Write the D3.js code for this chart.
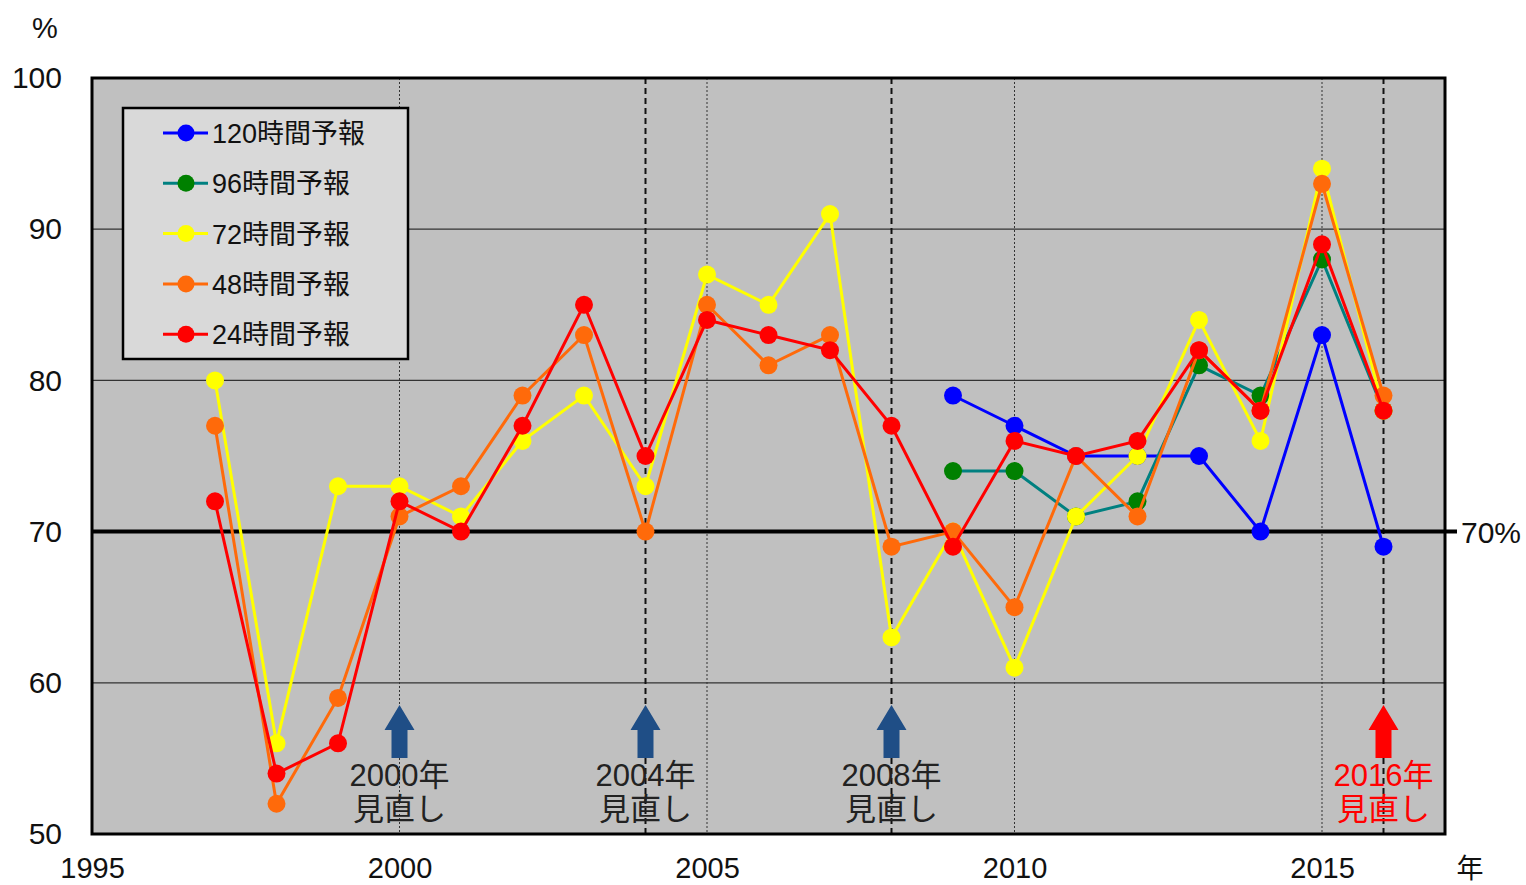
<!DOCTYPE html>
<html>
<head>
<meta charset="utf-8">
<script src="https://cdn.jsdelivr.net/npm/d3@7"></script>
<style>
  html, body { margin: 0; padding: 0; background: #fff; }
  svg { display: block; }
  text { font-family: "Liberation Sans", Arial, "Noto Sans CJK JP", sans-serif; }
</style>
</head>
<body>
<svg id="chart" width="1526" height="885"></svg>
<script>
// Forecast verification rate (%) by year, per forecast lead time
const years = [1997, 1998, 1999, 2000, 2001, 2002, 2003, 2004, 2005, 2006, 2007, 2008, 2009, 2010, 2011, 2012, 2013, 2014, 2015, 2016];
const yearsLong = [2009, 2010, 2011, 2012, 2013, 2014, 2015, 2016];

const h120 = [79, 77, 75, 75, 75, 70, 83, 69];
const h96  = [74, 74, 71, 72, 81, 79, 88, 78];
const h72  = [80, 56, 73, 73, 71, 76, 79, 73, 87, 85, 91, 63, 70, 61, 71, 75, 84, 76, 94, 78];
const h48  = [77, 52, 59, 71, 73, 79, 83, 70, 85, 81, 83, 69, 70, 65, 75, 71, 82, 78, 93, 79];
const h24  = [72, 54, 56, 72, 70, 77, 85, 75, 84, 83, 82, 77, 69, 76, 75, 76, 82, 78, 89, 78];

const seriesNames = ["120時間予報", "96時間予報", "72時間予報", "48時間予報", "24時間予報"];
const lineColors   = ["#0000ff", "#008080", "#ffff00", "#ff6a0a", "#ff0000"];
const markerColors = ["#0000ff", "#008000", "#ffff00", "#ff6a0a", "#ff0000"];

const yTicks = [50, 60, 70, 80, 90, 100];
const xTicks = [1995, 2000, 2005, 2010, 2015];
const gridYears = [2000, 2005, 2010, 2015];
const revisionYears = [2004, 2008, 2016];
const revisionNotes = [
  { year: 2000, label: "2000年", color: "#222", arrow: "#1f4e86" },
  { year: 2004, label: "2004年", color: "#222", arrow: "#1f4e86" },
  { year: 2008, label: "2008年", color: "#222", arrow: "#1f4e86" },
  { year: 2016, label: "2016年", color: "#ff0000", arrow: "#ff0000" }
];
const target = 70;

const series = [
  { name: seriesNames[0], x: yearsLong, v: h120 },
  { name: seriesNames[1], x: yearsLong, v: h96 },
  { name: seriesNames[2], x: years, v: h72 },
  { name: seriesNames[3], x: years, v: h48 },
  { name: seriesNames[4], x: years, v: h24 }
];

const svg = d3.select("#chart");
const L = 92, R = 1445, T = 78, B = 834;

const x = d3.scaleLinear().domain([1995, 2017]).range([L, R]);
const y = d3.scaleLinear().domain([50, 100]).range([B, T]);

// plot background
svg.append("rect").attr("x", L).attr("y", T).attr("width", R - L).attr("height", B - T)
  .attr("fill", "#c0c0c0");

// horizontal grid
svg.append("g").selectAll("line").data(yTicks.filter(d => d !== 50 && d !== 100 && d !== target))
  .join("line")
  .attr("x1", L).attr("x2", R).attr("y1", d => y(d)).attr("y2", d => y(d))
  .attr("stroke", "#333").attr("stroke-width", 1.2);

// vertical grid (dotted)
svg.append("g").selectAll("line").data(gridYears)
  .join("line")
  .attr("x1", d => x(d)).attr("x2", d => x(d)).attr("y1", T).attr("y2", B)
  .attr("stroke", "#333").attr("stroke-width", 1).attr("stroke-dasharray", "2,2");

// revision year markers (dashed)
svg.append("g").selectAll("line").data(revisionYears)
  .join("line")
  .attr("x1", d => x(d)).attr("x2", d => x(d)).attr("y1", T).attr("y2", B)
  .attr("stroke", "#111").attr("stroke-width", 2).attr("stroke-dasharray", "6,4");

// 70% target line
svg.append("line").attr("x1", L).attr("x2", R + 12).attr("y1", y(target)).attr("y2", y(target))
  .attr("stroke", "#000").attr("stroke-width", 4);
svg.append("text").attr("x", R + 16).attr("y", y(target) + 11)
  .attr("font-size", 30).attr("fill", "#111").text(target + "%");

// revision arrows and notes
const notes = svg.append("g");
revisionNotes.forEach(n => {
  const cx = x(n.year);
  const top = 705, headB = 730, bot = 758;
  notes.append("path")
    .attr("d", `M${cx},${top} L${cx + 15},${headB} L${cx + 8},${headB} L${cx + 8},${bot} L${cx - 8},${bot} L${cx - 8},${headB} L${cx - 15},${headB} Z`)
    .attr("fill", n.arrow);
  notes.append("text").attr("x", cx).attr("y", 786)
    .attr("text-anchor", "middle").attr("font-size", 31).attr("fill", n.color).text(n.label);
  notes.append("text").attr("x", cx).attr("y", 820)
    .attr("text-anchor", "middle").attr("font-size", 31).attr("fill", n.color).text("見直し");
});

// series lines and markers
const line = d3.line().x(d => x(d[0])).y(d => y(d[1]));
series.forEach((s, i) => {
  const pts = s.x.map((yr, j) => [yr, s.v[j]]);
  const g = svg.append("g");
  g.append("path").datum(pts).attr("d", line)
    .attr("fill", "none").attr("stroke", lineColors[i]).attr("stroke-width", 3);
  g.selectAll("circle").data(pts).join("circle")
    .attr("cx", d => x(d[0])).attr("cy", d => y(d[1])).attr("r", 9)
    .attr("fill", markerColors[i]);
});

// plot frame
svg.append("rect").attr("x", L).attr("y", T).attr("width", R - L).attr("height", B - T)
  .attr("fill", "none").attr("stroke", "#000").attr("stroke-width", 3);

// axes tick labels
const yAxis = d3.axisLeft(y).tickValues(yTicks).tickSize(0).tickPadding(30);
svg.append("g").attr("transform", `translate(${L},0)`).call(yAxis)
  .call(g => g.select(".domain").remove())
  .selectAll("text").attr("font-size", 30).attr("fill", "#111")
  .attr("font-family", "'Liberation Sans', Arial, sans-serif");

const xAxis = d3.axisBottom(x).tickValues(xTicks).tickFormat(d3.format("d")).tickSize(0).tickPadding(23);
svg.append("g").attr("transform", `translate(0,${B})`).call(xAxis)
  .call(g => g.select(".domain").remove())
  .selectAll("text").attr("font-size", 29).attr("fill", "#111")
  .attr("font-family", "'Liberation Sans', Arial, sans-serif");

svg.append("text").attr("x", 45).attr("y", 38).attr("text-anchor", "middle")
  .attr("font-size", 29).attr("fill", "#111").text("%");
svg.append("text").attr("x", 1470).attr("y", 878).attr("text-anchor", "middle")
  .attr("font-size", 27).attr("fill", "#111").text("年");

// legend
const lg = svg.append("g");
lg.append("rect").attr("x", 123).attr("y", 108).attr("width", 285).attr("height", 251)
  .attr("fill", "#d9d9d9").attr("stroke", "#000").attr("stroke-width", 2.5);
series.forEach((s, i) => {
  const ly = 133 + i * 50.3;
  lg.append("line").attr("x1", 163).attr("x2", 208).attr("y1", ly).attr("y2", ly)
    .attr("stroke", lineColors[i]).attr("stroke-width", 3);
  lg.append("circle").attr("cx", 186).attr("cy", ly).attr("r", 8.5).attr("fill", markerColors[i]);
  lg.append("text").attr("x", 212).attr("y", ly + 10)
    .attr("font-size", 27).attr("fill", "#111").text(s.name);
});
</script>
</body>
</html>
